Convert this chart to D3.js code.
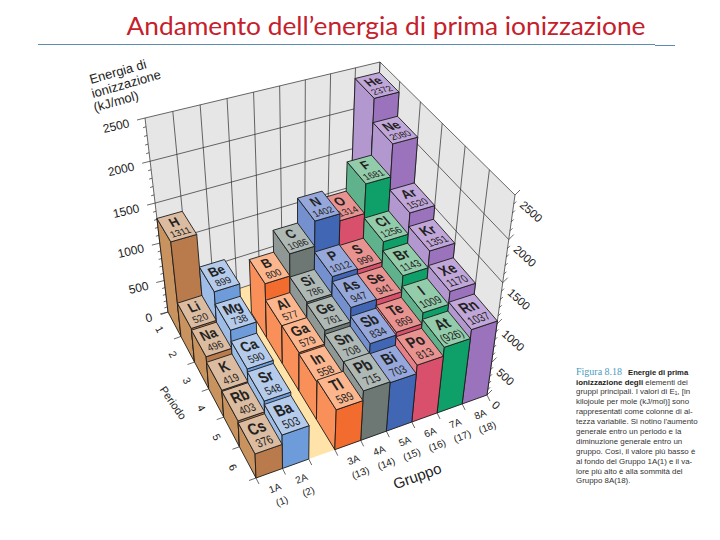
<!DOCTYPE html>
<html><head><meta charset="utf-8">
<script src="https://cdn.jsdelivr.net/npm/d3@7"></script>
<style>html,body{margin:0;padding:0;background:#fff}svg{display:block}text{font-family:"Liberation Sans",Arial,sans-serif;fill:#222}</style>
</head><body><div id="c"></div>
<script>
// ---- data ----
const groupLabels=["1A","2A","3A","4A","5A","6A","7A","8A"];
const groupNumbers=["(1)","(2)","(13)","(14)","(15)","(16)","(17)","(18)"];
const groupSlots=[0,1,3,4,5,6,7,8];
const periods=[1,2,3,4,5,6];
const energyTicks=[0,500,1000,1500,2000,2500];
const firstPeriod=[1,2,2,2,2,2,2,1];
const symbols=[
 ["H","Li","Na","K","Rb","Cs"],
 ["Be","Mg","Ca","Sr","Ba"],
 ["B","Al","Ga","In","Tl"],
 ["C","Si","Ge","Sn","Pb"],
 ["N","P","As","Sb","Bi"],
 ["O","S","Se","Te","Po"],
 ["F","Cl","Br","I","At"],
 ["He","Ne","Ar","Kr","Xe","Rn"]];
const energies=[
 [1311,520,496,419,403,376],
 [899,738,590,548,503],
 [800,577,579,558,589],
 [1086,786,761,708,715],
 [1402,1012,947,834,703],
 [1314,999,941,869,813],
 [1681,1256,1143,1009,926],
 [2372,2080,1520,1351,1170,1037]];
const valueLabels={At:"(926)"};
const palette=[
 {top:"#DBBCA0",left:"#C8935F",front:"#B97A4C"},
 {top:"#B5CBEC",left:"#9DBDE6",front:"#6E9CDB"},
 {top:"#FBB68E",left:"#F98F59",front:"#F26C2F"},
 {top:"#AEB8B5",left:"#8F9895",front:"#6D7874"},
 {top:"#96A8DB",left:"#7490CE",front:"#4066B4"},
 {top:"#E99391",left:"#E67F86",front:"#D8506B"},
 {top:"#92CCAA",left:"#5FB28B",front:"#0F9F68"},
 {top:"#C1A7D9",left:"#B398CF",front:"#9A73BC"}];
const captionHead="Figura 8.18";
const captionBold=["Energie di prima","ionizzazione degli"];
const captionRest=" elementi dei";
const captionLines=["gruppi principali. I valori di E₁, [in","kilojoule per mole (kJ/mol)] sono","rappresentati come colonne di al-","tezza variabile. Si notino l'aumento","generale entro un periodo e la","diminuzione generale entro un","gruppo. Così, il valore più basso è","al fondo del Gruppo 1A(1) e il va-","lore più alto è alla sommità del","Gruppo 8A(18)."];

// ---- projection ----
function squareToQuad(q){
  const [[x0,y0],[x1,y1],[x2,y2],[x3,y3]]=q;
  const dx1=x1-x2,dx2=x3-x2,sx=x0-x1+x2-x3,dy1=y1-y2,dy2=y3-y2,sy=y0-y1+y2-y3;
  const d=dx1*dy2-dx2*dy1,g=(sx*dy2-dx2*sy)/d,h=(dx1*sy-sx*dy1)/d;
  const a=x1-x0+g*x1,b=x3-x0+h*x3,c=x0,e=y1-y0+g*y1,f=y3-y0+h*y3,i=y0;
  return (u,v)=>{const w=g*u+h*v+1;return [(a*u+b*v+c)/w,(e*u+f*v+i)/w];};
}
// corners: back-left, back-right, front-right, front-left
const floorH=squareToQuad([[168,312],[371,245],[487,395],[256,478]]);
const topH=squareToQuad([[145,118],[380,62],[515,195],[248,273]]);
const uScale=d3.scaleLinear().domain([0,9]).range([0,1]);
const vScale=d3.scaleLinear().domain([0,6]).range([0,1]);
const zScale=d3.scalePow().exponent(1.13).domain([0,2500]).range([0,1]);
function P(g,p,e){
  const a=floorH(uScale(g),vScale(p)),b=topH(uScale(g),vScale(p)),t=zScale(e);
  return [a[0]+(b[0]-a[0])*t,a[1]+(b[1]-a[1])*t];
}
const poly=pts=>pts.map(p=>p.map(n=>n.toFixed(2)).join(",")).join(" ");

const svg=d3.select("#c").append("svg").attr("width",720).attr("height",540).attr("viewBox","0 0 720 540");

// title
svg.append("text").attr("x",386).attr("y",35).attr("text-anchor","middle")
  .attr("textLength",519).attr("lengthAdjust","spacingAndGlyphs")
  .style("font-family","Lato, 'Open Sans', sans-serif").style("font-size","25px").style("fill","#C5202B")
  .text("Andamento dell’energia di prima ionizzazione");
[[38,655,44.5],[655,675,45.5]].forEach(r=>svg.append("line").attr("x1",r[0]).attr("x2",r[1]).attr("y1",r[2]).attr("y2",r[2]).attr("stroke","#5E8CAB").attr("stroke-width",1));

// walls
const wallStroke="#2a2a2a";
const W=svg.append("g");
W.append("polygon").attr("points",poly([P(0,0,0),P(9,0,0),P(9,0,2500),P(0,0,2500)])).attr("fill","#E6E6E6");
W.append("polygon").attr("points",poly([P(9,0,0),P(9,6,0),P(9,6,2500),P(9,0,2500)])).attr("fill","#E6E6E6");
W.append("polygon").attr("points",poly([P(0,0,0),P(9,0,0),P(9,6,0),P(0,6,0)])).attr("fill","#FFE3A8");
const seg=(a,b,w=0.7)=>W.append("line").attr("x1",a[0]).attr("y1",a[1]).attr("x2",b[0]).attr("y2",b[1]).attr("stroke",wallStroke).attr("stroke-width",w);
d3.range(0,10).forEach(g=>seg(P(g,0,0),P(g,0,2500)));
d3.range(0,7).forEach(p=>seg(P(9,p,0),P(9,p,2500)));
energyTicks.forEach(e=>{seg(P(0,0,e),P(9,0,e));seg(P(9,0,e),P(9,6,e));});
// energy ticks
d3.range(0,2501,100).forEach(e=>{
  const major=e%500===0,a=P(0,0,e),b=P(9,6,e);
  seg(a,[a[0]-(major?8:3),a[1]+(major?2:1)],0.7);
  seg(b,[b[0]+(major?5:2.5),b[1]+(major?-5:-2.5)],0.7);
});
// floor ticks
d3.range(0,7).forEach(p=>{const a=P(0,p,0);seg(a,[a[0]-7,a[1]+2.5]);});
d3.range(0,10).forEach(g=>{const a=P(g,6,0);seg(a,[a[0]+3,a[1]+6]);});

// columns, back to front
const cols=[];
groupSlots.forEach((slot,gi)=>{
  symbols[gi].forEach((s,k)=>cols.push({slot,gi,row:firstPeriod[gi]-1+k,s,e:energies[gi][k]}));
});
cols.sort((a,b)=>a.row-b.row||b.slot-a.slot);
const G=svg.append("g").attr("stroke","#1c1c1c").attr("stroke-width",0.9).attr("stroke-linejoin","round");
cols.forEach(c=>{
  const g0=c.slot,g1=c.slot+1,p0=c.row,p1=c.row+1,col=palette[c.gi];
  const box=G.append("g");
  box.append("polygon").attr("points",poly([P(g0,p0,0),P(g0,p1,0),P(g0,p1,c.e),P(g0,p0,c.e)])).attr("fill",col.left);
  box.append("polygon").attr("points",poly([P(g0,p1,0),P(g1,p1,0),P(g1,p1,c.e),P(g0,p1,c.e)])).attr("fill",col.front);
  box.append("polygon").attr("points",poly([P(g0,p0,c.e),P(g1,p0,c.e),P(g1,p1,c.e),P(g0,p1,c.e)])).attr("fill",col.top);
  const S=24,o=P(g0+.5,p0+.5,c.e),ue=P(g0+1,p0+.5,c.e),uw=P(g0,p0+.5,c.e),vn=P(g0+.5,p0,c.e),vs=P(g0+.5,p1,c.e);
  const m=[(ue[0]-uw[0])/S,(ue[1]-uw[1])/S,(vs[0]-vn[0])/S,(vs[1]-vn[1])/S,o[0],o[1]].map(n=>n.toFixed(4)).join(",");
  const t=box.append("g").attr("transform",`matrix(${m})`).attr("stroke","none");
  t.append("text").attr("y",-0.5).attr("text-anchor","middle").style("font-size","11.5px").style("font-weight","bold").text(c.s);
  t.append("text").attr("y",9).attr("text-anchor","middle").style("font-size","8.5px").text(valueLabels[c.s]||c.e);
});

// axis labels
const lab=(x,y,rot,txt,size,anchor="middle")=>svg.append("text").attr("transform",`translate(${x},${y}) rotate(${rot})`)
  .attr("text-anchor",anchor).style("font-size",size+"px").text(txt);
energyTicks.forEach(e=>{const a=P(0,0,e);lab(a[0]-15,a[1]+9,-13,e,12,"end");});
energyTicks.forEach(e=>{const a=P(9,6,e);lab(a[0]+4,a[1]+11,42,e,11.5,"start");});
periods.forEach((p,i)=>{const a=P(0,i+.5,0);lab(a[0]-18,a[1]+7,62,p,10.5);});
groupLabels.forEach((l,i)=>{const a=P(groupSlots[i]+.5,6,0);
  lab(a[0]+7,a[1]+18,-22,l,10);lab(a[0]+14,a[1]+31,-22,groupNumbers[i],10);});
lab(170,405,55,"Periodo",11);
lab(419,481,-20,"Gruppo",15);
["Energia di","ionizzazione","(kJ/mol)"].forEach((t,i)=>lab(91+i*2,84+i*14,-16,t,13,"start"));

// caption
const cap=svg.append("g");
cap.append("text").attr("x",576).attr("y",375).style("font-size","10px").style("font-family","'Liberation Serif',serif").style("fill","#4A9CC0").text(captionHead);
cap.append("text").attr("x",628).attr("y",374.5).style("font-size","7.7px").style("font-weight","bold").text(captionBold[0]);
const l2=cap.append("text").attr("x",576).attr("y",384.5).style("font-size","7.9px");
l2.append("tspan").style("font-weight","bold").text(captionBold[1]);
l2.append("tspan").style("fill","#333").text(captionRest);
captionLines.forEach((l,i)=>cap.append("text").attr("x",576).attr("y",394.3+i*9.9).style("font-size","7.9px").style("fill","#333").text(l));
</script></body></html>
